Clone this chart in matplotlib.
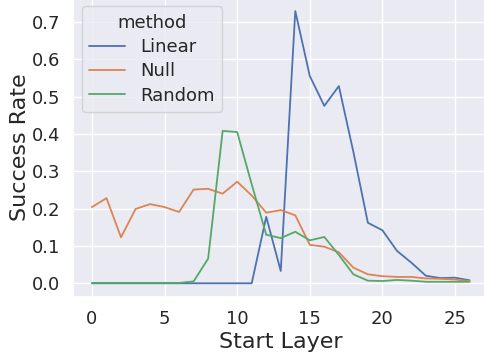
import numpy as np
import pandas as pd
import seaborn as sns
import matplotlib
matplotlib.use("Agg")
import matplotlib.pyplot as plt

layers = list(range(27))

linear = [0.0, 0.0, 0.0, 0.0, 0.0, 0.0, 0.0, 0.0, 0.0, 0.0, 0.0, 0.0,
          0.178, 0.033, 0.729, 0.555, 0.475, 0.528, 0.352, 0.162, 0.142,
          0.087, 0.055, 0.020, 0.014, 0.015, 0.008]
null = [0.204, 0.228, 0.123, 0.199, 0.212, 0.204, 0.191, 0.251, 0.253,
        0.240, 0.272, 0.235, 0.189, 0.196, 0.182, 0.103, 0.098, 0.083,
        0.042, 0.024, 0.019, 0.017, 0.017, 0.013, 0.012, 0.010, 0.006]
random_ = [0.001, 0.001, 0.001, 0.001, 0.001, 0.001, 0.001, 0.005, 0.066,
           0.408, 0.405, 0.265, 0.130, 0.121, 0.138, 0.115, 0.124, 0.076,
           0.024, 0.007, 0.006, 0.009, 0.007, 0.004, 0.004, 0.004, 0.004]

df = pd.DataFrame({
    "Start Layer": layers * 3,
    "Success Rate": linear + null + random_,
    "method": ["Linear"] * 27 + ["Null"] * 27 + ["Random"] * 27,
})

sns.set_theme(style="darkgrid")
plt.rcParams["font.family"] = ["DejaVu Sans"]

fig = plt.figure(figsize=(4.84, 3.56), dpi=100)
ax = fig.add_axes([73.1 / 484, 59.1 / 356, (488.4 - 73.1) / 484, 299.5 / 356])

sns.lineplot(data=df, x="Start Layer", y="Success Rate", hue="method", ax=ax, linewidth=1.3)

ax.set_xticks([0, 5, 10, 15, 20, 25])
ax.set_yticks(np.arange(0, 0.71, 0.1))
ax.tick_params(labelsize=13)
ax.set_xlabel("Start Layer", fontsize=16, labelpad=3)
ax.set_ylabel("Success Rate", fontsize=16, labelpad=1)

leg = ax.legend(title="method", loc="upper left", fontsize=13, title_fontsize=13,
                labelspacing=0.35, borderaxespad=0.5)

fig.savefig("out.png", dpi=100)
